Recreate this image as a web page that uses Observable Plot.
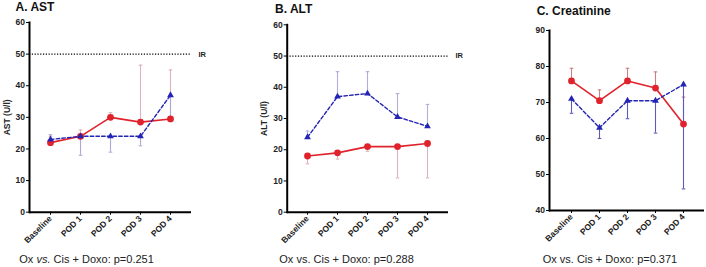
<!DOCTYPE html>
<html><head><meta charset="utf-8">
<script src="https://cdn.jsdelivr.net/npm/d3@7"></script>
<script src="https://cdn.jsdelivr.net/npm/@observablehq/plot@0.6"></script>
<style>
body{margin:0;background:#fff;font-family:"Liberation Sans",Arial,sans-serif;}
#wrap{position:relative;width:706px;height:267px;overflow:hidden;background:#fff;}
.panel{position:absolute;top:0;}
.title{position:absolute;font-weight:bold;font-size:12px;line-height:12px;color:#111;white-space:nowrap;}
.cap{position:absolute;font-size:11px;line-height:11px;color:#222;white-space:nowrap;}
</style></head><body><div id="wrap"></div>
<script>
// ---- data ----
const categories = ["Baseline", "POD 1", "POD 2", "POD 3", "POD 4"];
const titles = ["A. AST", "B. ALT", "C. Creatinine"];
const yLabels = ["AST (U/l)", "ALT (U/l)", null];
const captions = ["Ox <i>vs.</i> Cis + Doxo: p=0.251", "Ox vs. Cis + Doxo: p=0.288", "Ox vs. Cis + Doxo: p=0.371"];
const irValue = 50;
const irLabel = "IR";

// AST
const astRed = [22, 24, 30, 28.5, 29.5];
const astRedErr = [24, 26, 31.5, 46.5, 45];
const astBlue = [23, 24, 24, 24, 37];
const astBlueErr = [24.5, 18, 19, 21, 30];
// ALT
const altRed = [18, 19, 21, 21, 22];
const altRedErr = [15.5, 17, 19.5, 11, 11];
const altBlue = [24, 37, 38, 30.5, 27.5];
const altBlueErr = [26, 45, 45, 38, 34.5];
// Creatinine
const creRed = [76, 70.5, 76, 74, 64];
const creRedErr = [79.5, 73.5, 79.5, 78.5, 71.5];
const creBlue = [71, 63, 70.5, 70.5, 75];
const creBlueErr = [67, 60, 65.5, 61.5, 46];

const yTicksAB = [0, 10, 20, 30, 40, 50, 60];
const yTicksC = [40, 50, 60, 70, 80, 90];

// ---- drawing ----
const RED = "#e0222c", BLUE = "#2323b4";
const wrap = document.getElementById("wrap");
const cap = {draw(ctx) { ctx.moveTo(-1.8, 0); ctx.lineTo(1.8, 0); }};

function panel(o) {
  const rows = (v, e) => categories.map((c, i) => ({c, v: v[i], e: e[i]}));
  const R = rows(o.red, o.redErr), B = rows(o.blue, o.blueErr);
  const marks = [];
  if (o.ir) {
    marks.push(Plot.ruleY([{y: irValue}], {y: "y", stroke: "#000", strokeWidth: 1.3, strokeDasharray: "1.2,1.6"}));
    marks.push(Plot.text([{y: irValue, t: irLabel}], {y: "y", text: "t", frameAnchor: "right", textAnchor: "start", dx: 7, fontSize: 7.5, fontWeight: "bold", fill: "#222"}));
  }
  marks.push(
    Plot.ruleX(R, {x: "c", y1: "v", y2: "e", stroke: o.redBar, strokeWidth: 1.1}),
    Plot.dot(R, {x: "c", y: "e", symbol: cap, stroke: o.redBar, strokeWidth: 1.1}),
    Plot.ruleX(B, {x: "c", y1: "v", y2: "e", stroke: o.blueBar, strokeWidth: 1.1}),
    Plot.dot(B, {x: "c", y: "e", symbol: cap, stroke: o.blueBar, strokeWidth: 1.1}),
    Plot.line(R, {x: "c", y: "v", stroke: RED, strokeWidth: 1.6}),
    Plot.dot(R, {x: "c", y: "v", symbol: "circle", fill: RED, r: 3.4}),
    Plot.line(B, {x: "c", y: "v", stroke: BLUE, strokeWidth: 1.4, strokeDasharray: "3.5,2.2"}),
    Plot.dot(B, {x: "c", y: "v", symbol: "triangle", fill: BLUE, r: 2.5}),
    Plot.ruleY([o.yDomain[0]], {stroke: "#000", strokeWidth: 2}),
    Plot.frame({anchor: "left", stroke: "#000", strokeWidth: 2}),
    Plot.axisY({ticks: o.yTicks, tickSize: 3, tickPadding: 1.5, fontSize: 8.5, fontWeight: "bold", fill: "#222",
      label: o.yLabel, labelAnchor: "center", labelArrow: "none", labelOffset: o.labelOffset}),
    Plot.axisX({tickSize: 3, tickPadding: 2, tickRotate: -45, fontSize: 8.5, fontWeight: "bold", fill: "#222", label: null})
  );
  const svg = Plot.plot({
    width: o.width, height: 245,
    marginLeft: o.mL, marginRight: o.mR, marginTop: o.mT, marginBottom: o.mB,
    style: {fontFamily: "'Liberation Sans', Arial, sans-serif", background: "transparent", overflow: "visible"},
    x: {type: "point", domain: categories, padding: o.padding},
    y: {domain: o.yDomain},
    marks
  });
  svg.classList.add("panel");
  svg.style.left = o.left + "px";
  wrap.appendChild(svg);
  const t = document.createElement("div");
  t.className = "title"; t.textContent = o.title;
  t.style.left = o.tx + "px"; t.style.top = o.ty + "px";
  wrap.appendChild(t);
  const c = document.createElement("div");
  c.className = "cap"; c.innerHTML = o.caption;
  c.style.left = o.cx + "px"; c.style.top = "253.5px";
  wrap.appendChild(c);
}

panel({left: 0, width: 235, mL: 29, mR: 44, mT: 22, mB: 33.3, padding: 0.65,
  yDomain: [0, 60], yTicks: yTicksAB, ir: true, yLabel: yLabels[0], labelOffset: 26,
  red: astRed, redErr: astRedErr, blue: astBlue, blueErr: astBlueErr,
  redBar: "#dcb3b9", blueBar: "#aaaad6",
  title: titles[0], tx: 15.5, ty: 1.2, caption: captions[0], cx: 19.3});

panel({left: 235, width: 235, mL: 51.7, mR: 22, mT: 24.3, mB: 33.3, padding: 0.675,
  yDomain: [0, 60], yTicks: yTicksAB, ir: true, yLabel: yLabels[1], labelOffset: 26,
  red: altRed, redErr: altRedErr, blue: altBlue, blueErr: altBlueErr,
  redBar: "#dcb3b9", blueBar: "#b0b0d8",
  title: titles[1], tx: 275, ty: 3, caption: captions[1], cx: 279.3});

panel({left: 470, width: 236, mL: 79, mR: 2, mT: 30, mB: 35, padding: 0.68,
  yDomain: [40, 90], yTicks: yTicksC, ir: false, yLabel: yLabels[2], labelOffset: 26,
  red: creRed, redErr: creRedErr, blue: creBlue, blueErr: creBlueErr,
  redBar: "#c98087", blueBar: "#5c5cb8",
  title: titles[2], tx: 536.7, ty: 5.3, caption: captions[2], cx: 542.7});
</script>
</body></html>
